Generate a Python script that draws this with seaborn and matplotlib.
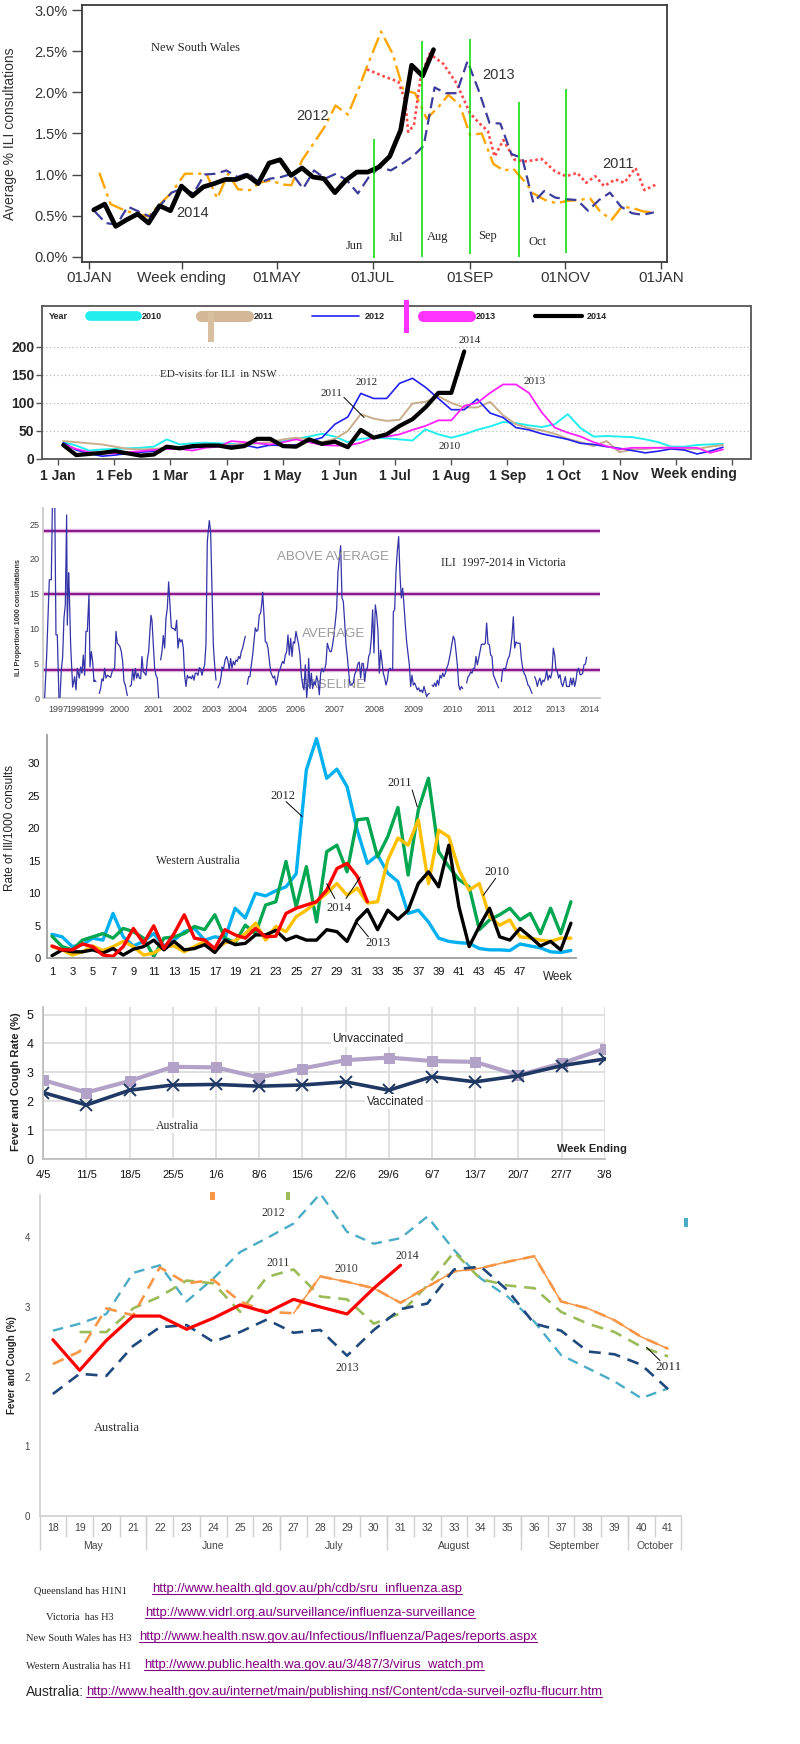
import numpy as np
import pandas as pd
import matplotlib
matplotlib.use("Agg")
import matplotlib.pyplot as plt
from matplotlib.lines import Line2D
from matplotlib.patches import Rectangle
import seaborn as sns

# ======================= DATA =======================
# --- Panel 1: NSW average % ILI consultations (x = day of year) ---
nsw_tick_days = [0, 59, 120, 181, 243, 304, 365]
nsw_tick_labels = ["01JAN", "Week ending", "01MAY", "01JUL", "01SEP", "01NOV", "01JAN"]
nsw14_first_day = 2.8
nsw14_pct = [0.57, 0.64, 0.37, 0.45, 0.52, 0.41, 0.62, 0.56, 0.86, 0.74, 0.85, 0.89, 0.94, 0.94,
             0.99, 0.89, 1.14, 1.18, 0.99, 1.08, 0.97, 0.95, 0.78, 0.93, 1.03, 1.03, 1.09, 1.22,
             1.54, 2.33, 2.20, 2.52]
nsw13_first_day = 3.5
nsw13_pct = [0.55, 0.41, 0.39, 0.61, 0.55, 0.49, 0.63, 0.78, 0.83, 0.77, 1.00, 1.01, 1.05, 0.97,
             1.02, 0.90, 0.95, 0.97, 1.01, 0.83, 1.05, 0.95, 1.01, 0.93, 0.77, 0.97, 1.09, 1.05,
             1.13, 1.22, 1.35, 2.06, 1.99, 1.99, 2.38, 2.03, 1.63, 1.62, 1.25, 1.20, 0.66, 0.80,
             0.72, 0.70, 0.69, 0.56, 0.69, 0.78, 0.61, 0.53, 0.51, 0.54]
nsw12_day = [6.4, 13.6, 20.6, 28.0, 37.6, 45.0, 52.5, 61.0, 74.8, 81.6, 88.6, 95.0, 102.4, 108.8,
             116.2, 122.6, 129.0, 136.0, 143.2, 150.2, 157.2, 165.1, 172.1, 176.8, 186.3, 193.7,
             200.5, 208.0, 215.4, 222.9, 229.3, 236.7, 243.1, 250.6, 258.0, 264.4, 270.8, 278.2,
             283.6, 291.1, 298.5, 304.9, 312.4, 319.8, 326.2, 333.6, 340.1, 347.5, 353.9, 360.3]
nsw12_pct = [1.02, 0.64, 0.58, 0.53, 0.49, 0.64, 0.78, 1.01, 1.01, 0.71, 1.01, 0.82, 0.81, 0.90,
             0.93, 0.88, 0.87, 1.18, 1.38, 1.58, 1.84, 1.73, 2.05, 2.29, 2.74, 2.47, 2.03, 1.99,
             1.68, 1.82, 1.97, 1.84, 1.48, 1.50, 1.13, 1.05, 1.07, 0.91, 0.77, 0.69, 0.65, 0.68,
             0.69, 0.71, 0.55, 0.45, 0.61, 0.59, 0.55, 0.54]
nsw11_day = [177.3, 188.7, 197.3, 201.6, 203.6, 207.3, 211.6, 217.3, 225.9, 234.5, 243.0, 248.7,
             254.5, 258.8, 264.4, 271.6, 278.7, 288.8, 297.3, 304.5, 311.6, 317.3, 323.1, 328.7,
             335.9, 341.6, 348.8, 354.5, 363.0]
nsw11_pct = [2.28, 2.19, 2.13, 1.91, 1.52, 1.60, 2.19, 2.47, 2.35, 2.11, 1.75, 1.63, 1.53, 1.22,
             1.42, 1.18, 1.16, 1.19, 1.04, 0.98, 1.02, 0.90, 0.98, 0.86, 0.94, 0.90, 1.08, 0.81, 0.89]
nsw_month_line_day = [181.9, 212.2, 243.3, 274.2, 304.2]
nsw_month_line_top = [1.43, 2.62, 2.65, 1.88, 2.04]
nsw_month_line_bot = [-0.02, 0.0, 0.03, 0.0, 0.05]
nsw_month_names = ["Jun", "Jul", "Aug", "Sep", "Oct"]
nsw_month_name_day = [169.2, 195.6, 222.2, 254.4, 286.3]
nsw_month_name_pct = [0.13, 0.23, 0.235, 0.25, 0.18]

# --- Panel 2: ED visits for ILI in NSW (x = month, weekly values) ---
ed_month_labels = ["1 Jan", "1 Feb", "1 Mar", "1 Apr", "1 May", "1 Jun", "1 Jul", "1 Aug",
                   "1 Sep", "1 Oct", "1 Nov", "", ""]
ed_first_week_month = 0.093
ed10 = [30, 24, 15, 17, 18, 19, 20, 22, 35, 26, 28, 29, 28, 27, 25, 29, 24, 32, 36, 40, 45, 40, 30,
        36, 38, 37, 35, 33, 53, 44, 38, 44, 52, 58, 66, 64, 60, 57, 62, 80, 55, 40, 41, 40, 39, 35,
        30, 22, 22, 25, 26, 27]
ed11 = [32, 30, 28, 26, 22, 18, 17, 18, 20, 20, 22, 22, 23, 25, 27, 28, 30, 35, 38, 35, 30, 36, 50,
        80, 72, 68, 70, 99, 102, 112, 100, 92, 92, 102, 78, 62, 55, 51, 45, 36, 30, 23, 32, 12, 17,
        18, 20, 20, 18, 18, 22, 25]
ed12 = [29, 16, 10, 5, 7, 10, 12, 14, 18, 20, 20, 22, 23, 23, 25, 20, 25, 24, 25, 32, 38, 62, 75,
        117, 108, 108, 135, 144, 128, 108, 88, 88, 107, 82, 74, 56, 52, 45, 40, 35, 28, 26, 22, 19,
        15, 11, 14, 18, 16, 9, 14, 21]
ed13 = [26, 18, 12, 10, 10, 12, 14, 16, 18, 18, 15, 20, 22, 32, 30, 28, 26, 30, 35, 30, 25, 24, 24,
        29, 38, 40, 44, 52, 59, 69, 69, 95, 100, 118, 133, 133, 118, 83, 56, 47, 40, 30, 23, 17, 20,
        20, 20, 20, 20, 20, 11, 17]
ed14 = [25, 7, 9, 11, 14, 10, 6, 8, 22, 19, 23, 24, 24, 20, 23, 36, 36, 23, 22, 35, 27, 31, 21, 52,
        38, 44, 59, 71, 92, 118, 118, 192]

# --- Panel 3: ILI 1997-2014 in Victoria (x = sample position along the series) ---
vic_year_labels = ["1997", "1998", "1999", "2000", "2001", "2002", "2003", "2004", "2005", "2006",
                   "2007", "2008", "2009", "2010", "2011", "2012", "2013", "2014"]
vic_year_pos = [55, 108, 163, 240, 342, 428, 516, 592, 682, 768, 885, 1005, 1122, 1238, 1338, 1448,
                1548, 1650]
vic_levels = [24, 15, 4]
vic_segment_starts = [14, 60, 178, 270, 362, 534, 622, 1176, 1280, 1384, 1484]
vic_t = [14, 20, 28, 34, 38, 44, 48, 52, 57,
         60, 64, 68, 72, 76, 80, 82, 86, 88, 92, 98, 104, 108, 112, 118, 122, 126, 130, 134, 138,
         142, 147, 150, 154, 158, 162, 165, 168,
         178, 182, 186, 190, 194, 198, 202, 206, 212, 218, 224, 228, 232, 236, 240, 244, 248, 252,
         256, 262,
         270, 274, 278, 282, 286, 290, 294, 298, 302, 306, 310, 314, 318, 322, 326, 330, 333, 336,
         340, 344, 348, 352, 356,
         362, 366, 370, 374, 378, 382, 386, 390, 394, 398, 402, 406, 410, 414, 418, 422, 426, 430,
         434, 438, 442, 446, 450, 454, 458, 462, 466, 470, 474, 478, 482, 486, 490, 494, 498, 502,
         508, 512, 516, 520, 524, 528,
         534, 540, 544, 546, 550, 556, 560, 564, 568, 572, 576, 580, 584, 588, 592, 596, 600, 604,
         608, 612, 616,
         622, 626, 630, 634, 638, 642, 646, 650, 654, 658, 662, 666, 668, 672, 676, 680, 684, 688,
         692, 696, 700, 704, 708, 712, 716, 720, 724, 728, 732, 736, 740, 744, 748, 752, 756, 760,
         764, 768, 772, 776, 780, 784, 788, 792, 796, 800, 804, 806, 810, 814, 818, 822, 826, 830,
         834, 838, 842, 846, 850, 854, 858, 862, 866, 870,
         874, 878, 882, 886, 890, 894, 898, 902, 906, 910, 914, 918, 922, 926, 930, 934, 940, 944,
         950, 954, 958, 962, 966, 970, 974, 978, 982, 986, 990, 994, 998, 1002, 1006, 1010, 1014,
         1018, 1022, 1026, 1030, 1034, 1038, 1042,
         1046, 1050, 1054, 1058, 1060, 1064, 1068, 1072, 1076, 1080, 1084, 1088, 1092, 1096, 1100,
         1104, 1108, 1112, 1116, 1120, 1124, 1128, 1132, 1136, 1140, 1144, 1148, 1152, 1156, 1160,
         1164, 1168,
         1176, 1180, 1184, 1188, 1192, 1196, 1200, 1204, 1208, 1212, 1216, 1220, 1224, 1228, 1232,
         1236, 1240, 1244, 1248, 1252, 1256, 1260, 1264, 1268,
         1280, 1284, 1288, 1292, 1296, 1300, 1304, 1308, 1312, 1316, 1320, 1324, 1328, 1332, 1336,
         1340, 1344, 1348, 1352, 1356, 1360, 1364, 1368, 1372, 1376,
         1384, 1388, 1392, 1396, 1400, 1404, 1408, 1412, 1416, 1420, 1424, 1428, 1432, 1436, 1440,
         1444, 1448, 1452, 1456, 1460, 1464, 1468, 1472, 1476,
         1484, 1488, 1492, 1496, 1500, 1504, 1508, 1512, 1516, 1520, 1524, 1528, 1532, 1536, 1540,
         1544, 1548, 1552, 1556, 1560, 1564, 1568, 1572, 1576, 1580, 1588, 1592, 1596, 1600, 1604,
         1608, 1612, 1616, 1620, 1624, 1628, 1632, 1636, 1640]
vic_v = [0, 6, 17, 17, 30, 30, 9.1, 9.1, 0,
         0, 4, 5.9, 11.5, 13.4, 26.3, 10.5, 18.0, 15.3, 7.7, 1.6, 3.1, 1.2, 4.3, 2.9, 4.5, 3.6, 6.2,
         3.3, 9.6, 9.6, 14.9, 4.5, 6.7, 5.3, 2.4, 2.6, 2.4,
         0.7, 1.4, 2.8, 2.5, 4.3, 2.9, 3.3, 3.2, 3.0, 4.1, 4.3, 9.6, 7.9, 7.7, 7.4, 6.7, 5.3, 2.4,
         1.9, 0.4,
         1.7, 1.9, 4.1, 2.6, 4.3, 2.9, 3.6, 2.9, 2.8, 6.0, 3.8, 3.6, 3.3, 5.5, 6.7, 9.8, 11.9, 11.2,
         7.7, 4.3, 3.3, 2.9, 0.1,
         5.5, 6.7, 9.0, 7.2, 11.5, 12.9, 16.7, 13.4, 10.2, 10.0, 10.0, 9.7, 11.2, 7.2, 8.6, 8.1, 8.4,
         7.2, 3.3, 1.7, 3.3, 2.9, 3.1, 2.8, 3.3, 2.6, 3.6, 3.6, 3.3, 4.4, 4.2, 3.3, 4.1, 4.8, 7.7,
         22.5, 25.5, 23.9, 15.8, 7.7, 4.8, 2.6,
         1.5, 2.2, 3.3, 4.5, 4.1, 5.6, 6.0, 5.3, 4.1, 5.7, 4.3, 5.3, 4.8, 5.5, 5.3, 6.0, 5.7, 6.7,
         7.2, 8.1, 8.9,
         2.0, 3.1, 3.1, 4.8, 6.2, 8.1, 10.1, 9.6, 9.8, 12.0, 12.2, 13.9, 15.2, 12.0, 8.1, 8.0, 7.2,
         5.5, 3.8, 3.3, 2.9, 3.2, 1.9, 2.6, 3.8, 4.1, 4.8, 5.3, 5.0, 6.2, 6.7, 9.1, 6.2, 8.6, 6.0,
         8.1, 7.9, 9.6, 8.6, 7.7, 6.2, 3.3, 1.9, 1.2, 4.8, 0.1, 2.4, 5.7, 1.4, 3.6, 1.4, 2.4, 1.9,
         3.2, 2.4, 0.5, 3.6, 4.3, 3.8, 4.1, 5.0, 7.9, 7.2, 6.7,
         6.7, 7.7, 9.1, 11.0, 12.9, 18.2, 20.1, 21.9, 14.4, 13.9, 11.0, 7.7, 6.0, 3.8, 1.9, 1.9, 2.2,
         3.4, 4.1, 5.0, 5.2, 2.9, 5.0, 5.0, 2.4, 4.1, 4.3, 6.0, 6.5, 8.6, 12.7, 6.5, 13.4, 12.0, 9.6,
         3.6, 6.9, 5.3, 3.6, 2.9, 1.9, 2.6,
         4.1, 4.3, 4.1, 4.1, 12.4, 12.7, 18.2, 21.1, 23.2, 17.7, 14.4, 15.8, 13.4, 10.5, 8.1, 6.5,
         4.8, 1.7, 3.3, 1.9, 2.2, 1.7, 1.2, 1.5, 0.96, 1.2, 0.8, 1.7, 1.0, 0.24, 0.6, 0.7,
         1.9, 1.7, 2.2, 1.7, 2.6, 1.9, 3.3, 2.9, 3.6, 3.1, 3.6, 4.3, 4.8, 5.7, 6.7, 7.9, 8.9, 8.4,
         6.7, 4.8, 1.9, 1.2, 1.7, 1.4,
         2.2, 3.1, 3.3, 3.8, 3.6, 4.3, 4.3, 6.0, 4.8, 5.7, 6.7, 7.7, 7.8, 7.7, 7.9, 10.8, 7.8, 7.7,
         6.2, 6.0, 3.4, 2.9, 2.4, 1.9, 1.5,
         2.4, 4.1, 4.3, 4.1, 4.9, 5.7, 6.0, 7.2, 8.9, 11.7, 7.2, 8.1, 7.9, 7.9, 7.9, 5.7, 4.3, 3.6,
         3.3, 2.6, 1.9, 1.7, 1.2, 0.7,
         3.1, 2.6, 1.7, 2.5, 2.9, 1.9, 2.6, 2.4, 2.9, 4.1, 2.6, 3.3, 2.9, 3.8, 7.2, 6.2, 4.1, 3.8,
         2.9, 3.4, 2.2, 1.7, 2.4, 3.1, 1.7, 1.7, 2.9, 1.9, 2.9, 1.7, 2.6, 4.1, 4.3, 3.4, 3.4, 3.6,
         4.8, 4.9, 5.9]

# --- Panel 4: Western Australia rate of ILI / 1000 consults (weeks 1..52) ---
wa10 = [1.8, 1.3, 0.5, 1.0, 1.9, 1.2, 1.8, 2.6, 1.8, 0.5, 0.8, 1.8, 1.9, 1.0, 1.8, 2.6, 1.3, 2.4,
        2.7, 3.8, 5.4, 2.8, 4.9, 4.1, 6.4, 7.4, 8.7, 10.0, 11.5, 9.7, 10.8, 8.5, 8.7, 15.1, 18.5,
        17.4, 21.3, 11.5, 19.7, 18.7, 13.6, 10.5, 11.5, 6.4, 5.1, 5.9, 3.3, 3.1, 2.8, 2.6, 3.1, 3.1]
wa11 = [3.4, 1.8, 1.3, 2.8, 3.3, 3.8, 3.1, 4.6, 4.1, 3.1, 0.3, 3.1, 3.3, 3.8, 4.9, 4.4, 6.7, 3.1,
        2.4, 5.1, 3.8, 8.2, 8.7, 14.9, 7.9, 14.1, 5.6, 16.4, 17.4, 13.3, 21.3, 21.5, 15.6, 18.7,
        23.2, 12.8, 22.8, 27.7, 16.4, 14.1, 12.1, 11.0, 4.4, 5.9, 6.7, 7.7, 5.9, 6.9, 3.8, 7.7, 3.8,
        8.7]
wa12 = [3.7, 3.3, 1.8, 2.1, 3.1, 2.8, 6.9, 3.3, 1.9, 2.6, 3.8, 1.9, 2.8, 4.1, 4.6, 2.8, 3.3, 3.1,
        7.7, 6.2, 10.0, 9.6, 10.4, 11.0, 13.0, 29.0, 33.8, 27.7, 29.1, 26.4, 19.7, 14.6, 15.9, 13.1,
        11.8, 6.9, 7.4, 5.6, 3.1, 2.6, 2.4, 2.3, 1.5, 1.3, 1.3, 1.2, 2.2, 1.9, 1.6, 1.0, 0.9, 1.2]
wa13 = [0.4, 1.3, 1.0, 1.0, 1.3, 0.8, 1.5, 0.5, 1.4, 1.8, 2.8, 1.3, 2.6, 1.3, 1.5, 2.1, 0.9, 2.8,
        2.1, 2.3, 3.6, 3.6, 4.3, 2.8, 3.4, 2.8, 2.8, 4.4, 4.1, 2.6, 5.9, 7.5, 4.4, 7.4, 6.0, 7.4,
        11.5, 13.3, 11.0, 17.4, 7.9, 1.8, 4.9, 7.7, 3.3, 2.8, 4.6, 3.3, 1.9, 2.6, 1.3, 5.4]
wa14 = [1.9, 1.3, 1.3, 2.2, 1.8, 0.5, 0.3, 1.8, 4.6, 2.3, 5.0, 1.5, 3.8, 6.7, 3.1, 2.8, 1.5, 4.4,
        3.6, 3.1, 4.6, 3.3, 3.4, 6.9, 7.7, 8.2, 8.7, 10.5, 13.8, 14.6, 12.6, 8.7]

# --- Panel 5: Australia, vaccinated vs unvaccinated ---
vac_weeks = ["4/5", "11/5", "18/5", "25/5", "1/6", "8/6", "15/6", "22/6", "29/6", "6/7", "13/7",
             "20/7", "27/7", "3/8"]
unvaccinated = [2.73, 2.30, 2.70, 3.19, 3.17, 2.82, 3.13, 3.42, 3.51, 3.39, 3.36, 2.90, 3.31, 3.82]
vaccinated = [2.30, 1.87, 2.38, 2.56, 2.58, 2.52, 2.56, 2.67, 2.38, 2.85, 2.67, 2.88, 3.23, 3.46]

# --- Panel 6: Australia fever and cough (weeks 18..41) ---
au_weeks = ["18", "19", "20", "21", "22", "23", "24", "25", "26", "27", "28", "29", "30", "31",
            "32", "33", "34", "35", "36", "37", "38", "39", "40", "41"]
au_months = ["May", "June", "July", "August", "September", "October"]
au_month_size = [4, 5, 4, 5, 4, 2]
au10 = [2.18, 2.36, 2.98, 2.88, 3.57, 3.34, 3.39, 3.08, 2.93, 2.91, 3.44, 3.36, 3.27, 3.06, 3.29,
        3.51, 3.56, 3.65, 3.73, 3.08, 2.98, 2.81, 2.57, 2.40]
au11 = [np.nan, 2.64, 2.64, 2.98, 3.15, 3.38, 3.34, 2.93, 3.43, 3.54, 3.15, 3.11, 2.76, 2.91, 3.31,
        3.79, 3.40, 3.31, 3.27, 2.93, 2.76, 2.64, 2.43, 2.29]
au12 = [2.66, 2.76, 2.90, 3.49, 3.60, 3.08, 3.41, 3.79, 3.99, 4.20, 4.63, 4.08, 3.91, 3.99, 4.30,
        3.82, 3.41, 3.15, 2.79, 2.31, 2.12, 1.93, 1.69, 1.83]
au13 = [1.75, 2.04, 2.01, 2.44, 2.71, 2.74, 2.50, 2.64, 2.82, 2.63, 2.67, 2.30, 2.67, 2.97, 3.05,
        3.54, 3.58, 3.24, 2.76, 2.66, 2.36, 2.32, 2.17, 1.82]
au14 = [2.53, 2.09, 2.52, 2.87, 2.87, 2.68, 2.84, 3.03, 2.92, 3.11, 3.00, 2.90, 3.27, 3.60]

# --- Bottom notes ---
note_labels = ["Queensland has H1N1", "Victoria  has H3", "New South Wales has H3",
               "Western Australia has H1", "Australia:"]
note_links = ["http://www.health.qld.gov.au/ph/cdb/sru_influenza.asp",
              "http://www.vidrl.org.au/surveillance/influenza-surveillance",
              "http://www.health.nsw.gov.au/Infectious/Influenza/Pages/reports.aspx",
              "http://www.public.health.wa.gov.au/3/487/3/virus_watch.pm",
              "http://www.health.gov.au/internet/main/publishing.nsf/Content/cda-surveil-ozflu-flucurr.htm"]

# ======================= FIGURE =======================
W, H = 800, 1744
sns.set_theme(style="white")
plt.rcParams["font.family"] = ["Liberation Sans", "DejaVu Sans"]
plt.rcParams["axes.unicode_minus"] = False
SERIF = ["Liberation Serif", "DejaVu Serif"]

fig = plt.figure(figsize=(W / 100, H / 100), dpi=100)
fig.patch.set_facecolor("white")


def add_ax(l, t, r, b):
    ax = fig.add_axes([l / W, 1 - b / H, (r - l) / W, (b - t) / H])
    ax.set_facecolor("none")
    for s in ax.spines.values():
        s.set_visible(False)
    return ax


def line(ax, x, y, color, lw, ls="-", **kw):
    sns.lineplot(x=np.asarray(x, float), y=np.asarray(y, float), ax=ax, color=color,
                 linewidth=lw, linestyle=ls, sort=False, estimator=None, legend=False, **kw)


def ftext(x, y, s, **kw):
    return fig.text(x / W, 1 - y / H, s, **kw)


# ---------------- Panel 1: NSW ----------------
ax1 = add_ax(81.7, 5, 667.3, 262)
d14 = nsw14_first_day + 7 * np.arange(len(nsw14_pct))
d13 = nsw13_first_day + 7 * np.arange(len(nsw13_pct))
line(ax1, nsw12_day, nsw12_pct, "#FFA500", 1.7, (0, (7, 2.2, 1.4, 2.2)))
line(ax1, nsw11_day, nsw11_pct, "#FF4A4A", 1.9, (0, (1, 1.1)))
line(ax1, d13, nsw13_pct, "#3C3C9C", 1.6, (0, (5, 2.5)))
line(ax1, d14, nsw14_pct, "black", 3.4)
ax1.vlines(nsw_month_line_day, nsw_month_line_bot, nsw_month_line_top, color="#00DD00", lw=1.1)
for nm, dd, pp in zip(nsw_month_names, nsw_month_name_day, nsw_month_name_pct):
    ax1.text(dd, pp, nm, family=SERIF, fontsize=9, ha="center", va="center")
ax1.text(67.5, 2.54, "New South Wales", family=SERIF, fontsize=9, ha="center", va="center")
for s, dd, pp in [("2012", 142.4, 1.71), ("2013", 261.2, 2.21), ("2011", 337.8, 1.13),
                  ("2014", 66.0, 0.535)]:
    ax1.text(dd, pp, s, fontsize=10.5, color="#333333", ha="center", va="center")
ax1.set_xlim(-4.9, 369.1)
ax1.set_ylim(-0.064, 3.063)
ax1.set_xticks(nsw_tick_days)
ax1.set_xticklabels(nsw_tick_labels)
ax1.set_yticks([0, 0.5, 1.0, 1.5, 2.0, 2.5, 3.0])
ax1.set_yticklabels([f"{v:.1f}%" for v in [0, 0.5, 1.0, 1.5, 2.0, 2.5, 3.0]])
for s in ax1.spines.values():
    s.set_visible(True)
    s.set_color("#3a3a3a")
    s.set_linewidth(1.3)
ax1.tick_params(axis="y", direction="out", length=7, width=1, color="#444", labelsize=10.5,
                labelcolor="#333", pad=3, left=True)
ax1.tick_params(axis="x", direction="out", length=5, width=1, color="#444", labelsize=11,
                labelcolor="#333", pad=1.5, bottom=True)
ax1.set_xlabel("")
ax1.set_ylabel("")
ftext(10, 134, "Average % ILI consultations", rotation=90, fontsize=10, color="#333",
      ha="center", va="center")

# ---------------- Panel 2: ED visits ----------------
ax2 = add_ax(41.5, 306, 750.5, 459)
ew = np.arange(52)
ex = ed_first_week_month + ew * 12 / 52.1
line(ax2, ex, ed10, "#22EEEE", 1.4)
line(ax2, ex, ed11, "#C9AE8C", 1.4)
line(ax2, ex, ed12, "#2020F0", 1.2)
line(ax2, ex, ed13, "#FF22FF", 1.3)
line(ax2, ex[:len(ed14)], ed14, "black", 3.0)
ax2.set_xlim(-0.294, 12.33)
ax2.set_ylim(0, 273)
ax2.set_xticks(np.arange(13))
ax2.set_xticklabels(ed_month_labels)
ax2.set_yticks([0, 50, 100, 150, 200])
ax2.yaxis.grid(True, linestyle=(0, (1, 2)), color="#BBBBBB", lw=0.9)
ax2.set_axisbelow(True)
for s in ax2.spines.values():
    s.set_visible(True)
    s.set_color("#555")
    s.set_linewidth(1.3)
ax2.tick_params(axis="both", direction="out", length=4, width=1, color="#555", labelsize=10)
ax2.tick_params(axis="x", bottom=True, pad=3)
ax2.tick_params(axis="y", left=True, pad=1)
for lab in ax2.get_xticklabels() + ax2.get_yticklabels():
    lab.set_fontweight("bold")
ax2.text(11.33, -0.055, "Week ending", transform=ax2.get_xaxis_transform(), fontsize=10,
         fontweight="bold", ha="center", va="top")
ax2.set_xlabel("")
ax2.set_ylabel("")
for s, m, v in [("2014", 7.33, 211), ("2012", 5.49, 136), ("2011", 4.87, 116),
                ("2013", 8.48, 139), ("2010", 6.97, 22)]:
    ax2.text(m, v, s, family=SERIF, fontsize=8, ha="center", va="center")
ax2.plot([5.09, 5.45], [110, 74], color="black", lw=0.7)
ax2.text(1.81, 151, "ED-visits for ILI  in NSW", family=SERIF, fontsize=8, ha="left",
         va="center")
leg_handles = [Line2D([], [], color="#22EEEE", lw=7, solid_capstyle="round"),
               Line2D([], [], color="#D2B896", lw=8),
               Line2D([], [], color="#2020F0", lw=1.2),
               Line2D([], [], color="#FF33FF", lw=8),
               Line2D([], [], color="black", lw=3)]
leg = ax2.legend(leg_handles, ["2010", "2011", "2012", "2013", "2014"], ncol=5,
                 loc="center left", bbox_to_anchor=(0.068, 0.93), frameon=False,
                 prop={"weight": "bold", "size": 6.5}, handlelength=5.2, handletextpad=0.6,
                 columnspacing=4.3, borderaxespad=0, borderpad=0)
ax2.text(0.01, 0.93, "Year", transform=ax2.transAxes, fontsize=6.5, fontweight="bold",
         va="center", ha="left")
fig.add_artist(Rectangle((208 / W, 1 - 342 / H), 6 / W, 30 / H, transform=fig.transFigure,
                         color="#D8BFA0", lw=0))
fig.add_artist(Rectangle((404 / W, 1 - 333 / H), 5 / W, 33 / H, transform=fig.transFigure,
                         color="#FF33FF", lw=0))

# ---------------- Panel 3: Victoria ----------------
ax3 = add_ax(43.3, 508, 600, 698.3)
seg_id = np.searchsorted(np.asarray(vic_segment_starts), np.asarray(vic_t), side="right")
vdf = pd.DataFrame({"t": vic_t, "v": vic_v, "seg": seg_id})
for lv in vic_levels:
    ax3.axhline(lv, color="#E2B8E2", lw=3.2, zorder=1)
    ax3.axhline(lv, color="#8A1C8A", lw=1.5, zorder=2)
sns.lineplot(data=vdf, x="t", y="v", units="seg", estimator=None, sort=False, color="#3434A8",
             linewidth=0.9, legend=False, ax=ax3, zorder=3)
ax3.set_xlim(10, 1680)
ax3.set_ylim(0, 27.3)
ax3.set_xticks(vic_year_pos)
ax3.set_xticklabels(vic_year_labels)
ax3.set_yticks([0, 5, 10, 15, 20, 25])
ax3.spines["left"].set_visible(True)
ax3.spines["bottom"].set_visible(True)
ax3.spines["left"].set_color("#C8C8C8")
ax3.spines["bottom"].set_color("#C8C8C8")
ax3.spines["bottom"].set_linewidth(1.3)
ax3.tick_params(axis="both", length=0, labelsize=6.5, labelcolor="#444")
ax3.tick_params(axis="x", pad=5)
ax3.tick_params(axis="y", pad=3)
ax3.set_xlabel("")
ax3.set_ylabel("")
ax3.text(880, 20.3, "ABOVE AVERAGE", fontsize=9.5, color="#9A9A9A", ha="center", va="center")
ax3.text(880, 9.2, "AVERAGE", fontsize=9.5, color="#9A9A9A", ha="center", va="center")
ax3.text(880, 1.9, "BASELINE", fontsize=9.5, color="#9A9A9A", ha="center", va="center", zorder=0)
ax3.text(1390, 19.4, "ILI  1997-2014 in Victoria", family=SERIF, fontsize=8.5, ha="center",
         va="center")
ftext(18.6, 618, "ILI Proportion/ 1000 consultations", rotation=90, fontsize=5.2,
      fontweight="bold", color="#333", ha="center", va="center")

# ---------------- Panel 4: Western Australia ----------------
ax4 = add_ax(47.2, 735, 576, 958.3)
wk = np.arange(1, 53)
line(ax4, wk, wa12, "#00B0F0", 2.4)
line(ax4, wk, wa11, "#00A650", 2.4)
line(ax4, wk, wa10, "#FFC000", 2.4)
line(ax4, wk, wa13, "black", 2.4)
line(ax4, wk[:len(wa14)], wa14, "#FF0000", 2.4)
ax4.set_xlim(0.53, 52.5)
ax4.set_ylim(0, 34.35)
ax4.set_xticks(np.arange(1, 48, 2))
ax4.set_yticks([0, 5, 10, 15, 20, 25, 30])
ax4.spines["left"].set_visible(True)
ax4.spines["bottom"].set_visible(True)
ax4.spines["left"].set_color("#999")
ax4.spines["bottom"].set_color("#999")
ax4.tick_params(axis="both", length=0, labelsize=8, labelcolor="#111")
ax4.tick_params(axis="x", pad=6)
ax4.tick_params(axis="y", pad=5)
ax4.set_xlabel("")
ax4.set_ylabel("")
ax4.text(50.75, -0.085, "Week", transform=ax4.get_xaxis_transform(), fontsize=8.5,
         ha="center", va="center")
ax4.text(15.3, 14.9, "Western Australia", family=SERIF, fontsize=8.5, ha="center", va="center")
for s, w, v in [("2012", 23.7, 25.0), ("2011", 35.2, 26.9), ("2010", 44.7, 13.3),
                ("2014", 29.2, 7.7), ("2013", 33.0, 2.4)]:
    ax4.text(w, v, s, family=SERIF, fontsize=9, ha="center", va="center")
for (w0, v0, w1, v1) in [(24.0, 24.1, 25.6, 21.8), (36.4, 25.9, 36.9, 23.3),
                         (44.6, 12.3, 43.4, 9.7), (28.8, 9.2, 28.0, 11.5),
                         (29.9, 9.2, 31.3, 12.5), (32.1, 3.3, 31.0, 5.4)]:
    ax4.plot([w0, w1], [v0, v1], color="black", lw=0.7)
ftext(10, 828, "Rate of Ill/1000 consults", rotation=90, fontsize=8.5, color="#222",
      ha="center", va="center")

# ---------------- Panel 5: vaccinated vs unvaccinated ----------------
ax5 = add_ax(43.2, 1006.7, 604.8, 1159)
xi = np.arange(len(vac_weeks))
line(ax5, xi, unvaccinated, "#B3A2C7", 3.0, marker="s", markersize=7,
     markerfacecolor="#B3A2C7", markeredgecolor="#B3A2C7")
line(ax5, xi, vaccinated, "#1F3864", 2.6, marker="x", markersize=9, markeredgewidth=1.4,
     markeredgecolor="#1F3864")
ax5.set_xlim(0, 13)
ax5.set_ylim(0, 5.27)
ax5.set_xticks(xi)
ax5.set_xticklabels(vac_weeks)
ax5.set_yticks([0, 1, 2, 3, 4, 5])
ax5.grid(True, color="#DADADA", lw=1.2)
ax5.set_axisbelow(True)
ax5.spines["left"].set_visible(True)
ax5.spines["bottom"].set_visible(True)
ax5.spines["left"].set_color("#BBBBBB")
ax5.spines["bottom"].set_color("#BBBBBB")
ax5.tick_params(axis="both", length=0, labelsize=8, labelcolor="#111")
ax5.tick_params(axis="x", pad=8)
ax5.tick_params(axis="y", pad=7, labelsize=9)
ax5.set_xlabel("")
ax5.set_ylabel("")
ax5.text(7.52, 4.14, "Unvaccinated", fontsize=8.5, ha="center", va="center",
         bbox=dict(facecolor="white", edgecolor="none", pad=1))
ax5.text(8.15, 1.98, "Vaccinated", fontsize=8.5, ha="center", va="center",
         bbox=dict(facecolor="white", edgecolor="none", pad=1))
ax5.text(3.1, 1.15, "Australia", family=SERIF, fontsize=8.5, ha="center", va="center",
         bbox=dict(facecolor="white", edgecolor="none", pad=1))
ax5.text(12.7, 0.33, "Week Ending", fontsize=8, fontweight="bold", ha="center", va="center")
ftext(16, 1082, "Fever and Cough Rate (%)", rotation=90, fontsize=8, fontweight="bold",
      color="#222", ha="center", va="center")

# ---------------- Panel 6: Australia fever and cough ----------------
ax6 = add_ax(39.5, 1195, 681.4, 1515.7)
ai = np.arange(len(au_weeks))
line(ax6, ai, au12, "#4BACC6", 1.7, (0, (4.5, 3)))
line(ax6, ai, au11, "#9BBB59", 1.9, (0, (4.5, 3)))
line(ax6, ai, au10, "#F79646", 1.9, (0, (4.5, 3)))
line(ax6, ai[9:], au10[9:], "#F79646", 1.1)
line(ax6, ai, au13, "#1F497D", 1.9, (0, (4.5, 3)))
line(ax6, ai[:len(au14)], au14, "#FF0000", 2.3)
ax6.set_xlim(-0.5, 23.5)
ax6.set_ylim(0, 4.61)
ax6.set_xticks(ai)
ax6.set_xticklabels(au_weeks)
ax6.set_yticks([0, 1, 2, 3, 4])
ax6.spines["left"].set_visible(True)
ax6.spines["bottom"].set_visible(True)
ax6.spines["left"].set_color("#D0D0D0")
ax6.spines["bottom"].set_color("#D0D0D0")
ax6.tick_params(axis="both", length=0, labelsize=7.5, labelcolor="#444")
ax6.tick_params(axis="x", pad=5)
ax6.tick_params(axis="y", pad=7, labelsize=7)
ax6.set_xlabel("")
ax6.set_ylabel("")
tr6 = ax6.get_xaxis_transform()
ax6.vlines(ai[:-1] + 0.5, -0.066, 0, transform=tr6, color="#D0D0D0", lw=1, clip_on=False)
bounds = np.concatenate([[0], np.cumsum(au_month_size)]) - 0.5
ax6.vlines(bounds, -0.107, 0, transform=tr6, color="#D0D0D0", lw=1, clip_on=False)
for nm, a, b in zip(au_months, bounds[:-1], bounds[1:]):
    ax6.text((a + b) / 2, -0.094, nm, transform=tr6, fontsize=7.5, color="#444", ha="center",
             va="center")
for s, i, v in [("2012", 8.25, 4.35), ("2011", 8.44, 3.63), ("2010", 10.96, 3.55),
                ("2014", 13.27, 3.74), ("2013", 11.01, 2.13)]:
    ax6.text(i, v, s, family=SERIF, fontsize=8.5, color="#333", ha="center", va="center")
ax6.text(23.03, 2.14, "2011", family=SERIF, fontsize=9.5, ha="center", va="center")
ax6.plot([22.2, 22.7], [2.42, 2.23], color="black", lw=0.7)
ax6.text(2.4, 1.26, "Australia", family=SERIF, fontsize=9, ha="center", va="center")
ftext(11.6, 1365, "Fever and Cough (%)", rotation=90, fontsize=7, fontweight="bold",
      color="#222", ha="center", va="center")
for (x0, y0, w_, h_, c) in [(210, 1192, 5, 8, "#F79646"), (286, 1192, 4, 8, "#9BBB59"),
                            (684, 1218, 4, 9, "#4BACC6")]:
    fig.add_artist(Rectangle((x0 / W, 1 - (y0 + h_) / H), w_ / W, h_ / H,
                             transform=fig.transFigure, color=c, lw=0))

# ---------------- Bottom notes ----------------
label_pos = [(34, 1591), (46, 1617), (26, 1638), (26, 1666), (26, 1692)]
link_pos = [(152, 1589), (145, 1613), (139, 1637), (144, 1665), (86, 1692)]
link_texts = []
for k, (lab, url) in enumerate(zip(note_labels, note_links)):
    lx, ly = label_pos[k]
    ux, uy = link_pos[k]
    if k < 4:
        ftext(lx, ly, lab, family=SERIF, fontsize=7.5, ha="left", va="center")
        link_texts.append(ftext(ux, uy, url, fontsize=9.4, color="#800080", ha="left",
                                va="center"))
    else:
        ftext(lx, ly, lab, fontsize=10, ha="left", va="center")
        link_texts.append(ftext(ux, uy, url, fontsize=9.35, color="#800080", ha="left",
                                va="center"))

fig.canvas.draw()
for t in link_texts:
    bb = t.get_window_extent()
    yy = bb.y0 + 1.5
    fig.add_artist(Line2D([bb.x0 / W, bb.x1 / W], [yy / H, yy / H], transform=fig.transFigure,
                          color="#800080", lw=0.8))

fig.savefig("out.png", dpi=100, facecolor="white")
